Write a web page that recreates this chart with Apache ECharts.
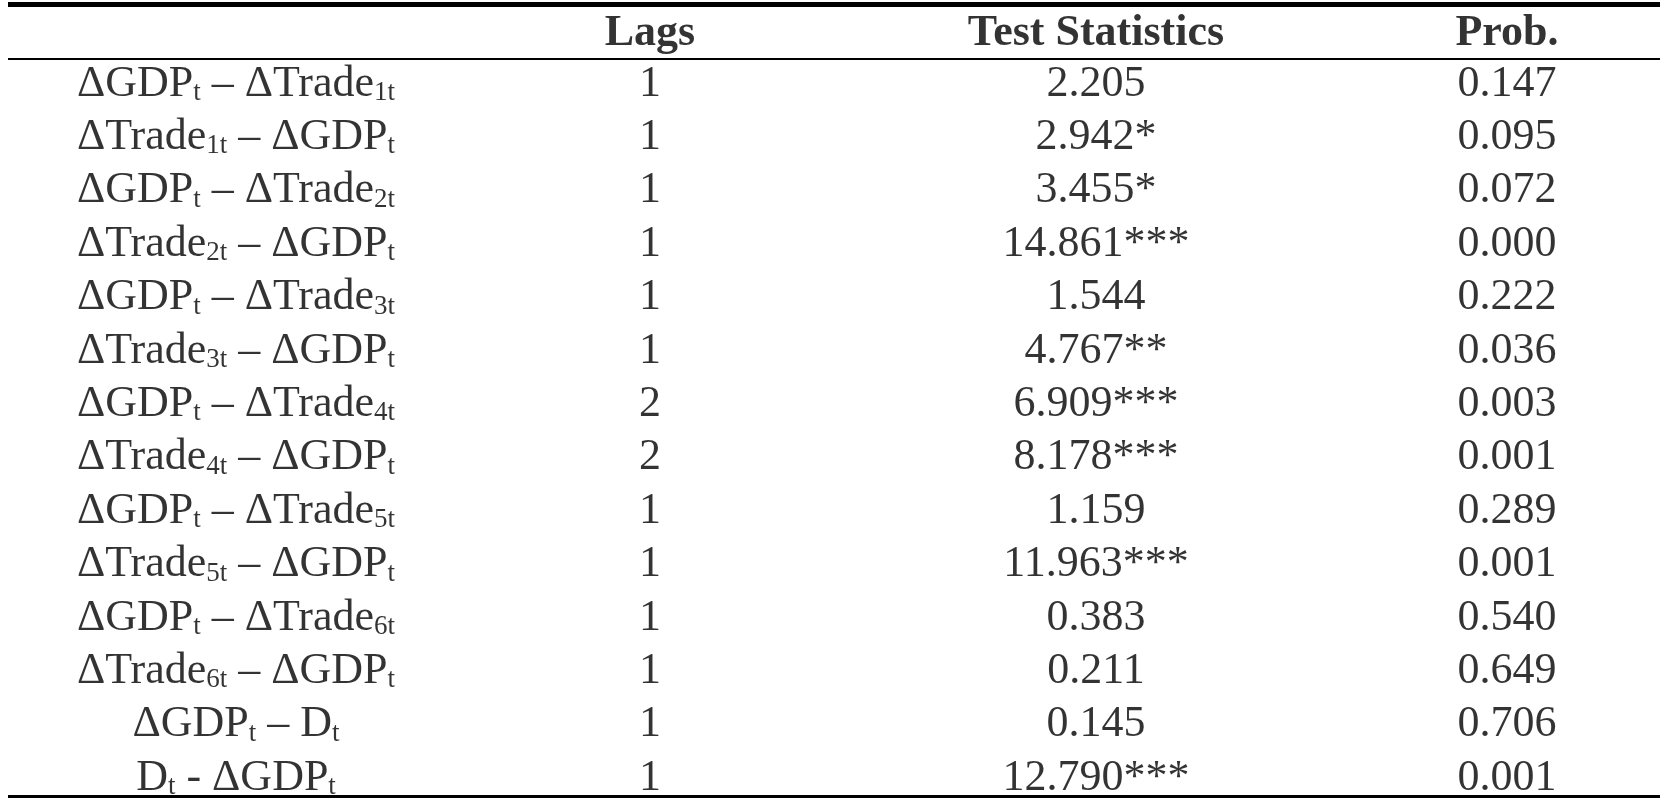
<!DOCTYPE html>
<html><head><meta charset="utf-8">
<script src="https://cdn.jsdelivr.net/npm/echarts@6/dist/echarts.min.js"></script>
<style>html,body{margin:0;padding:0;background:#fff}#c{width:1668px;height:807px}</style>
</head><body><div id="c"></div>
<script>
const headers = ['Lags', 'Test Statistics', 'Prob.'];
const pairs = ['{a|ΔGDP}{s|t}{a| – ΔTrade}{s|1t}','{a|ΔTrade}{s|1t}{a| – ΔGDP}{s|t}',
 '{a|ΔGDP}{s|t}{a| – ΔTrade}{s|2t}','{a|ΔTrade}{s|2t}{a| – ΔGDP}{s|t}',
 '{a|ΔGDP}{s|t}{a| – ΔTrade}{s|3t}','{a|ΔTrade}{s|3t}{a| – ΔGDP}{s|t}',
 '{a|ΔGDP}{s|t}{a| – ΔTrade}{s|4t}','{a|ΔTrade}{s|4t}{a| – ΔGDP}{s|t}',
 '{a|ΔGDP}{s|t}{a| – ΔTrade}{s|5t}','{a|ΔTrade}{s|5t}{a| – ΔGDP}{s|t}',
 '{a|ΔGDP}{s|t}{a| – ΔTrade}{s|6t}','{a|ΔTrade}{s|6t}{a| – ΔGDP}{s|t}',
 '{a|ΔGDP}{s|t}{a| – D}{s|t}','{a|D}{s|t}{a| - ΔGDP}{s|t}'];
const lags = ['1','1','1','1','1','1','2','2','1','1','1','1','1','1'];
const stats = ['2.205','2.942*','3.455*','14.861***','1.544','4.767**','6.909***','8.178***','1.159','11.963***','0.383','0.211','0.145','12.790***'];
const probs = ['0.147','0.095','0.072','0.000','0.222','0.036','0.003','0.001','0.289','0.001','0.540','0.649','0.706','0.001'];

const colX = [236, 650, 1096, 1507];
const row0 = 84, rowH = 53.4;
const font = '"Liberation Serif", "Times New Roman", serif';
const rich = {a:{fontSize:44,fontFamily:font,color:'#000',lineHeight:50},
              s:{fontSize:27,fontFamily:font,color:'#000',lineHeight:50,padding:[18,0,0,0]}};
function textSeries(points, bold){
  return {type:'scatter', symbolSize:0, silent:true, data:points,
    label:{show:true, position:'inside', formatter:p=>p.data[2], fontSize:44, fontFamily:font,
      fontWeight: bold?'bold':'normal', color:'#000', rich: rich}};
}
const series = [];
series.push(textSeries(headers.map((h,i)=>[colX[i+1], 34, h]), true));
series.push(textSeries(pairs.map((t,i)=>[colX[0], row0+rowH*i, t]), false));
series.push(textSeries(lags.map((t,i)=>[colX[1], row0+rowH*i, t]), false));
series.push(textSeries(stats.map((t,i)=>[colX[2], row0+rowH*i, t]), false));
series.push(textSeries(probs.map((t,i)=>[colX[3], row0+rowH*i, t]), false));
const chart = echarts.init(document.getElementById('c'));
chart.setOption({
  animation:false, backgroundColor:'#fff',
  grid:{left:0,right:0,top:0,bottom:0},
  xAxis:{type:'value',min:0,max:1668,show:false},
  yAxis:{type:'value',min:0,max:807,inverse:true,show:false},
  graphic:[
    {type:'rect',shape:{x:8,y:2,width:1652,height:5},style:{fill:'#000'}},
    {type:'rect',shape:{x:8,y:58,width:1652,height:2},style:{fill:'#000'}},
    {type:'rect',shape:{x:8,y:795,width:1652,height:3},style:{fill:'#000'}}
  ],
  series: series
});
</script></body></html>
